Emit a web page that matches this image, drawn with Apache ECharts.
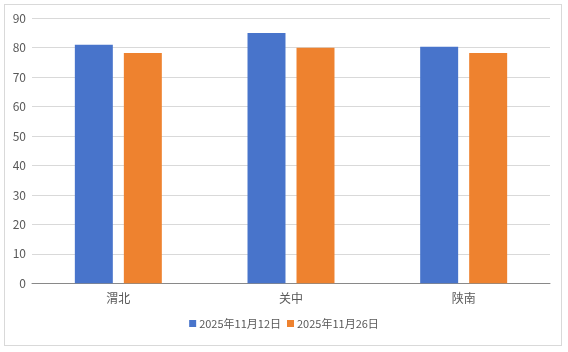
<!DOCTYPE html>
<html><head><meta charset="utf-8">
<script src="https://cdn.jsdelivr.net/npm/echarts@6/dist/echarts.min.js"></script>
<style>html,body{margin:0;padding:0;background:#fff}
#wrap{position:absolute;left:4px;top:4px;width:558px;height:342px;border:1px solid #d9d9d9;box-sizing:border-box}
#c{position:absolute;left:0;top:0;width:568px;height:352px}</style>
</head><body>
<div id="wrap"></div>
<div id="c"></div>
<script>
const categories = ['渭北', '关中', '陕南'];
const seriesNames = ['2025年11月12日', '2025年11月26日'];
const values1 = [81, 85, 80.3];
const values2 = [78.2, 80, 78.2];
const yTicks = {min: 0, max: 90, interval: 10};

const chart = echarts.init(document.getElementById('c'));
const font = '"Noto Sans CJK SC", "Liberation Sans", sans-serif';
chart.setOption({
  animation: false,
  textStyle: {fontFamily: font},
  grid: {left: 32, right: 18, top: 18.3, bottom: 352 - 283.3, containLabel: false},
  legend: {
    bottom: 18, left: 'center', itemWidth: 7, itemHeight: 7, itemGap: 6,
    icon: 'rect',
    textStyle: {color: '#595959', fontSize: 11, fontFamily: font, padding: [0, 0, 0, -2]},
    data: seriesNames
  },
  xAxis: {
    type: 'category', data: categories,
    axisLine: {lineStyle: {color: '#898989'}},
    axisTick: {show: false},
    axisLabel: {color: '#595959', fontSize: 12, margin: 9}
  },
  yAxis: {
    type: 'value', min: yTicks.min, max: yTicks.max, interval: yTicks.interval,
    axisLine: {show: false}, axisTick: {show: false},
    splitLine: {lineStyle: {color: '#d9d9d9'}},
    axisLabel: {color: '#595959', fontSize: 12, margin: 6}
  },
  series: [
    {name: seriesNames[0], type: 'bar', data: values1, barWidth: '22%', barGap: '29%', itemStyle: {color: '#4874CB'}},
    {name: seriesNames[1], type: 'bar', data: values2, barWidth: '22%', barGap: '29%', itemStyle: {color: '#EE822F'}}
  ]
});
</script>
</body></html>
